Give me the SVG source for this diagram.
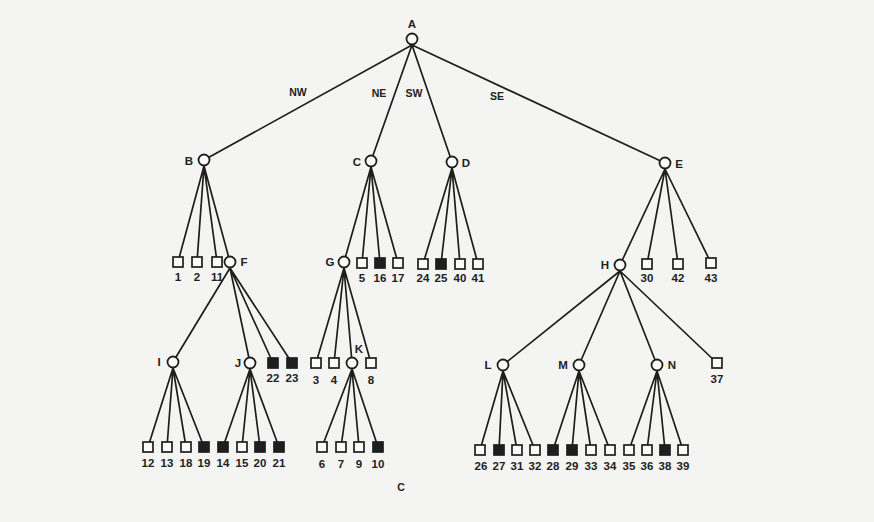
<svg xmlns="http://www.w3.org/2000/svg" width="874" height="522" viewBox="0 0 874 522">
<style>
.bg{fill:#f4f4f2}
.e{stroke:#1e1e1e;stroke-width:1.7;fill:none}
.c{fill:#fbfbfa;stroke:#1e1e1e;stroke-width:1.8}
.s{fill:#fbfbfa;stroke:#1e1e1e;stroke-width:1.7}
.f{fill:#1e1e1e;stroke:#1e1e1e;stroke-width:1.7}
text{font-family:"Liberation Sans","DejaVu Sans",sans-serif;font-size:11.5px;font-weight:bold;fill:#222;text-anchor:middle}
.lt{font-size:10.5px}
</style>
<rect class="bg" x="0" y="0" width="874" height="522"/>
<g id="connectors">
<path class="e" d="M412 45L204 160M412 45L371 161M412 45L452 162M412 45L665 163"/>
<path class="e" d="M204 166L178 262M204 166L197 262M204 166L217 262M204 166L230 262"/>
<path class="e" d="M371 167L344 262M371 167L362 263M371 167L380 263M371 167L398 263"/>
<path class="e" d="M452 168L423 264M452 168L441 264M452 168L460 264M452 168L478 264"/>
<path class="e" d="M665 169L620 265M665 169L647 264M665 169L678 264M665 169L711 263"/>
<path class="e" d="M230 268L173 362M230 268L250 363M230 268L273 363M230 268L292 363"/>
<path class="e" d="M344 268L316 363M344 268L334 363M344 268L352 363M344 268L371 363"/>
<path class="e" d="M620 271L503 365M620 271L579 365M620 271L657 365M620 271L717 363"/>
<path class="e" d="M173 368L148 447M173 368L167 447M173 368L186 447M173 368L204 447"/>
<path class="e" d="M250 369L223 447M250 369L242 447M250 369L260 447M250 369L279 447"/>
<path class="e" d="M352 369L322 447M352 369L341 447M352 369L359 447M352 369L378 447"/>
<path class="e" d="M503 371L480 450M503 371L499 450M503 371L517 450M503 371L535 450"/>
<path class="e" d="M579 371L553 450M579 371L572 450M579 371L591 450M579 371L610 450"/>
<path class="e" d="M657 371L629 450M657 371L647 450M657 371L665 450M657 371L683 450"/>
</g>
<g id="edge-labels">
<text class="lt" x="298" y="96">NW</text>
<text class="lt" x="379" y="97">NE</text>
<text class="lt" x="414" y="97">SW</text>
<text class="lt" x="497" y="100">SE</text>
</g>
<g id="nA"><circle class="c" cx="412" cy="39" r="5.5"/><text x="412" y="28">A</text></g>
<g id="nB"><circle class="c" cx="204" cy="160" r="5.5"/><text x="189" y="165">B</text></g>
<g id="nC"><circle class="c" cx="371" cy="161" r="5.5"/><text x="357" y="166">C</text></g>
<g id="nD"><circle class="c" cx="452" cy="162" r="5.5"/><text x="466" y="167">D</text></g>
<g id="nE"><circle class="c" cx="665" cy="163" r="5.5"/><text x="679" y="168">E</text></g>
<g id="nF"><circle class="c" cx="230" cy="262" r="5.5"/><text x="244" y="266">F</text></g>
<g id="nG"><circle class="c" cx="344" cy="262" r="5.5"/><text x="330" y="266">G</text></g>
<g id="nH"><circle class="c" cx="620" cy="265" r="5.5"/><text x="605" y="269">H</text></g>
<g id="nI"><circle class="c" cx="173" cy="362" r="5.5"/><text x="159" y="366">I</text></g>
<g id="nJ"><circle class="c" cx="250" cy="363" r="5.5"/><text x="238" y="367">J</text></g>
<g id="nK"><circle class="c" cx="352" cy="363" r="5.5"/><text x="359" y="353">K</text></g>
<g id="nL"><circle class="c" cx="503" cy="365" r="5.5"/><text x="488" y="369">L</text></g>
<g id="nM"><circle class="c" cx="579" cy="365" r="5.5"/><text x="563" y="369">M</text></g>
<g id="nN"><circle class="c" cx="657" cy="365" r="5.5"/><text x="672" y="369">N</text></g>
<g id="s1"><rect class="s" x="173" y="257" width="10" height="10"/><text x="178" y="281">1</text></g>
<g id="s2"><rect class="s" x="192" y="257" width="10" height="10"/><text x="197" y="281">2</text></g>
<g id="s11"><rect class="s" x="212" y="257" width="10" height="10"/><text x="217" y="281">11</text></g>
<g id="s5"><rect class="s" x="357" y="258" width="10" height="10"/><text x="362" y="282">5</text></g>
<g id="s16"><rect class="f" x="375" y="258" width="10" height="10"/><text x="380" y="282">16</text></g>
<g id="s17"><rect class="s" x="393" y="258" width="10" height="10"/><text x="398" y="282">17</text></g>
<g id="s24"><rect class="s" x="418" y="259" width="10" height="10"/><text x="423" y="282">24</text></g>
<g id="s25"><rect class="f" x="436" y="259" width="10" height="10"/><text x="441" y="282">25</text></g>
<g id="s40"><rect class="s" x="455" y="259" width="10" height="10"/><text x="460" y="282">40</text></g>
<g id="s41"><rect class="s" x="473" y="259" width="10" height="10"/><text x="478" y="282">41</text></g>
<g id="s30"><rect class="s" x="642" y="259" width="10" height="10"/><text x="647" y="282">30</text></g>
<g id="s42"><rect class="s" x="673" y="259" width="10" height="10"/><text x="678" y="282">42</text></g>
<g id="s43"><rect class="s" x="706" y="258" width="10" height="10"/><text x="711" y="282">43</text></g>
<g id="s22"><rect class="f" x="268" y="358" width="10" height="10"/><text x="273" y="382">22</text></g>
<g id="s23"><rect class="f" x="287" y="358" width="10" height="10"/><text x="292" y="382">23</text></g>
<g id="s3"><rect class="s" x="311" y="358" width="10" height="10"/><text x="316" y="384">3</text></g>
<g id="s4"><rect class="s" x="329" y="358" width="10" height="10"/><text x="334" y="384">4</text></g>
<g id="s8"><rect class="s" x="366" y="358" width="10" height="10"/><text x="371" y="384">8</text></g>
<g id="s37"><rect class="s" x="712" y="358" width="10" height="10"/><text x="717" y="383">37</text></g>
<g id="s12"><rect class="s" x="143" y="442" width="10" height="10"/><text x="148" y="467">12</text></g>
<g id="s13"><rect class="s" x="162" y="442" width="10" height="10"/><text x="167" y="467">13</text></g>
<g id="s18"><rect class="s" x="181" y="442" width="10" height="10"/><text x="186" y="467">18</text></g>
<g id="s19"><rect class="f" x="199" y="442" width="10" height="10"/><text x="204" y="467">19</text></g>
<g id="s14"><rect class="f" x="218" y="442" width="10" height="10"/><text x="223" y="467">14</text></g>
<g id="s15"><rect class="s" x="237" y="442" width="10" height="10"/><text x="242" y="467">15</text></g>
<g id="s20"><rect class="f" x="255" y="442" width="10" height="10"/><text x="260" y="467">20</text></g>
<g id="s21"><rect class="f" x="274" y="442" width="10" height="10"/><text x="279" y="467">21</text></g>
<g id="s6"><rect class="s" x="317" y="442" width="10" height="10"/><text x="322" y="468">6</text></g>
<g id="s7"><rect class="s" x="336" y="442" width="10" height="10"/><text x="341" y="468">7</text></g>
<g id="s9"><rect class="s" x="354" y="442" width="10" height="10"/><text x="359" y="468">9</text></g>
<g id="s10"><rect class="f" x="373" y="442" width="10" height="10"/><text x="378" y="468">10</text></g>
<g id="s26"><rect class="s" x="475" y="445" width="10" height="10"/><text x="481" y="470">26</text></g>
<g id="s27"><rect class="f" x="494" y="445" width="10" height="10"/><text x="499" y="470">27</text></g>
<g id="s31"><rect class="s" x="512" y="445" width="10" height="10"/><text x="517" y="470">31</text></g>
<g id="s32"><rect class="s" x="530" y="445" width="10" height="10"/><text x="535" y="470">32</text></g>
<g id="s28"><rect class="f" x="548" y="445" width="10" height="10"/><text x="553" y="470">28</text></g>
<g id="s29"><rect class="f" x="567" y="445" width="10" height="10"/><text x="572" y="470">29</text></g>
<g id="s33"><rect class="s" x="586" y="445" width="10" height="10"/><text x="591" y="470">33</text></g>
<g id="s34"><rect class="s" x="605" y="445" width="10" height="10"/><text x="610" y="470">34</text></g>
<g id="s35"><rect class="s" x="624" y="445" width="10" height="10"/><text x="629" y="470">35</text></g>
<g id="s36"><rect class="s" x="642" y="445" width="10" height="10"/><text x="647" y="470">36</text></g>
<g id="s38"><rect class="f" x="660" y="445" width="10" height="10"/><text x="665" y="470">38</text></g>
<g id="s39"><rect class="s" x="678" y="445" width="10" height="10"/><text x="683" y="470">39</text></g>
<text class="lt" x="401" y="491">C</text>
</svg>
